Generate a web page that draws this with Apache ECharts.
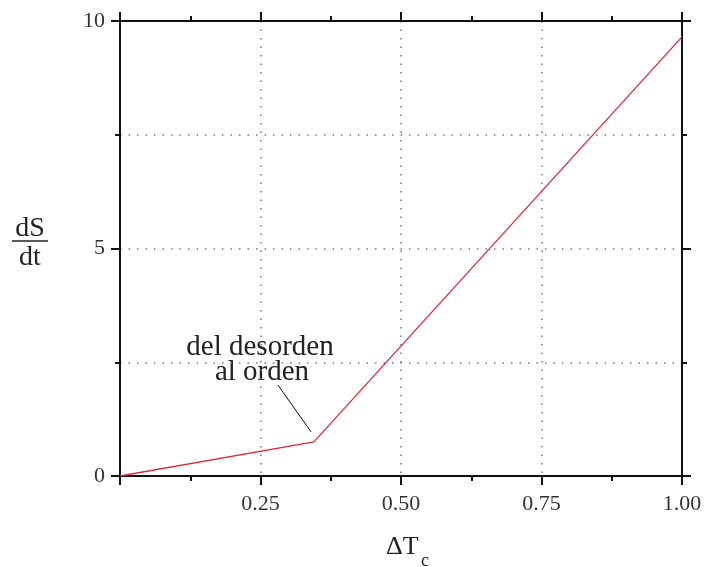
<!DOCTYPE html>
<html><head><meta charset="utf-8">
<script src="https://cdn.jsdelivr.net/npm/echarts@6/dist/echarts.min.js"></script>
<style>html,body{margin:0;padding:0;background:#fff}#c{width:705px;height:567px}</style>
</head><body><div id="c"></div>
<script>
const xValues = [0, 0.345, 1.0];
const yValues = [0, 0.75, 9.65];
const xTickLabels = ['0.25', '0.50', '0.75', '1.00'];
const yTickLabels = ['0', '5', '10'];
const leader = [[0.281, 2.0], [0.340, 0.97]];

const F = 'Liberation Serif';
const chart = echarts.init(document.getElementById('c'));
const frame = {show: true, onZero: false, lineStyle: {color: '#111', width: 2}};
const grid = {lineStyle: {color: '#777', width: 1.5, type: [1.5, 7]}};
function xAx(pos, labels) {
  return {
    type: 'value', position: pos, min: 0, max: 1, interval: 0.25,
    axisLine: frame,
    axisTick: {show: true, inside: false, length: 9, lineStyle: {color: '#111', width: 2}},
    minorTick: {show: true, splitNumber: 2, length: 5, lineStyle: {color: '#111', width: 2}},
    splitLine: labels ? Object.assign({show: true}, grid) : {show: false},
    axisLabel: labels ? {
      show: true, margin: 17, fontFamily: F, fontSize: 22, color: '#333',
      formatter: v => { const s = v.toFixed(2); return xTickLabels.includes(s) ? s : ''; }
    } : {show: false}
  };
}
function yAx(pos, labels) {
  return {
    type: 'value', position: pos, min: 0, max: 10, interval: 5,
    axisLine: frame,
    axisTick: {show: true, inside: false, length: 9, lineStyle: {color: '#111', width: 2}},
    minorTick: {show: true, splitNumber: 2, length: 5, lineStyle: {color: '#111', width: 2}},
    splitLine: labels ? Object.assign({show: true}, grid) : {show: false},
    minorSplitLine: labels ? Object.assign({show: true}, grid) : {show: false},
    axisLabel: labels ? {
      show: true, margin: 15, fontFamily: F, fontSize: 22, color: '#333',
      formatter: v => { const s = String(v); return yTickLabels.includes(s) ? s : ''; }
    } : {show: false}
  };
}
chart.setOption({
  animation: false,
  grid: {left: 120, right: 23, top: 21, bottom: 91},
  xAxis: [xAx('bottom', true), xAx('top', false)],
  yAxis: [yAx('left', true), yAx('right', false)],
  series: [{
    type: 'line', xAxisIndex: 0, yAxisIndex: 0, symbol: 'none',
    lineStyle: {color: '#e0283a', width: 1.3},
    data: xValues.map((x, i) => [x, yValues[i]]),
    markLine: {
      silent: true, symbol: 'none', label: {show: false},
      lineStyle: {color: '#111', width: 1, type: 'solid'},
      data: [[{coord: leader[0]}, {coord: leader[1]}]]
    }
  }],
  graphic: [
    {type: 'text', style: {text: 'del desorden', x: 260, y: 347, align: 'center', verticalAlign: 'middle', font: '29px "Liberation Serif"', fill: '#222'}},
    {type: 'text', style: {text: 'al orden', x: 262, y: 372, align: 'center', verticalAlign: 'middle', font: '29px "Liberation Serif"', fill: '#222'}},
    {type: 'text', style: {text: 'dS', x: 30, y: 229, align: 'center', verticalAlign: 'middle', font: '28px "Liberation Serif"', fill: '#222'}},
    {type: 'line', shape: {x1: 12, y1: 241, x2: 48, y2: 241}, style: {stroke: '#222', lineWidth: 1.5}},
    {type: 'text', style: {text: 'dt', x: 30, y: 258, align: 'center', verticalAlign: 'middle', font: '28px "Liberation Serif"', fill: '#222'}},
    {type: 'text', style: {text: 'ΔT', x: 386, y: 534, font: '26px "Liberation Serif"', fill: '#222'}},
    {type: 'text', style: {text: 'c', x: 421, y: 552, font: '18px "Liberation Serif"', fill: '#222'}}
  ]
});
</script></body></html>
